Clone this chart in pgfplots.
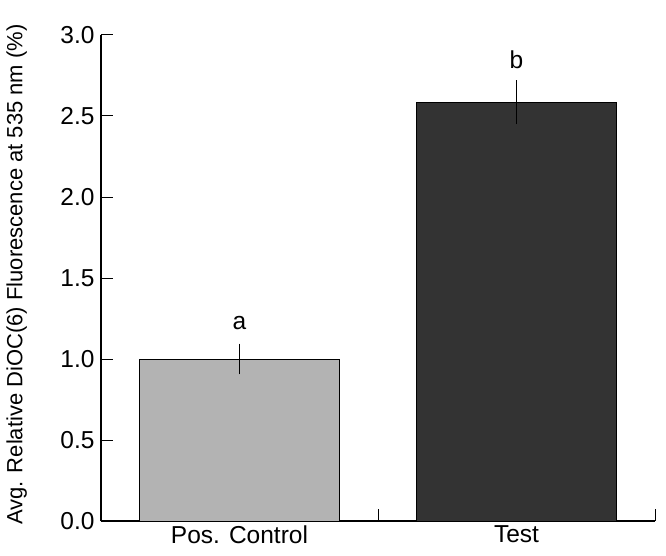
\documentclass[border=0pt]{standalone}
\usepackage{fontspec}
\setmainfont{Liberation Sans}
\usepackage{pgfplots}
\pgfplotsset{compat=1.18}
\definecolor{barlight}{HTML}{B3B3B3}
\definecolor{bardark}{HTML}{333333}
\begin{document}
\begin{tikzpicture}
\begin{axis}[
  scale only axis, width=554pt, height=486pt,
  xmin=-0.5, xmax=1.5, ymin=0, ymax=3,
  axis x line*=bottom, axis y line*=left,
  axis line style={line width=1.2pt},
  xtick={-0.5,0.5,1.5},
  xticklabels={Pos. Control, Test},
  x tick label as interval,
  ytick={0,0.5,...,3},
  yticklabel style={/pgf/number format/fixed, /pgf/number format/fixed zerofill, /pgf/number format/precision=1},
  /pgf/number format/assume math mode=true,
  tick align=inside,
  major tick length=12pt,
  tick style={black, line width=1pt},
  ticklabel style={font=\fontsize{24.5}{27}\selectfont},
  yticklabel style={xshift=-3pt},
  xticklabel style={yshift=-1pt},
  ylabel={Avg. Relative DiOC(6) Fluorescence at 535 nm (\%)},
  ylabel style={at={(axis description cs:-0.152,0.507)}, anchor=center, font=\fontsize{22}{25}\selectfont},
  clip=false,
]
\addplot[ybar, bar width=0.72, bar shift=0pt, fill=barlight, draw=black, line width=1pt,
  error bars/.cd, y dir=both, y explicit, error mark=none,
  error bar style={black, line width=1pt}]
  coordinates {(0,1.0) +- (0,0.095)};
\addplot[ybar, bar width=0.72, bar shift=0pt, fill=bardark, draw=black, line width=1pt,
  error bars/.cd, y dir=both, y explicit, error mark=none,
  error bar style={black, line width=1pt}]
  coordinates {(1,2.585) +- (0,0.135)};
\node[font=\fontsize{24.5}{27}\selectfont] at (axis cs:0,1.22) {a};
\node[font=\fontsize{24.5}{27}\selectfont] at (axis cs:1,2.85) {b};
\end{axis}
\path (current axis.south west) ++(-101pt,-34pt) rectangle ++(666pt,555pt);
\end{tikzpicture}
\end{document}
